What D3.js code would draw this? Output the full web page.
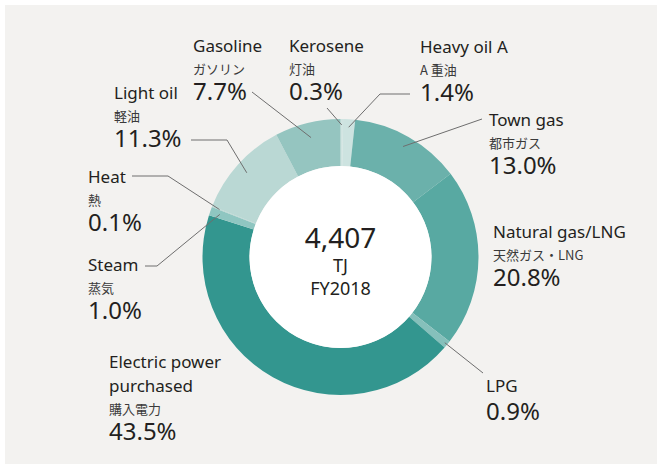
<!DOCTYPE html>
<html>
<head>
<meta charset="utf-8">
<script src="https://cdn.jsdelivr.net/npm/d3@7"></script>
<style>
	body { margin: 0; background: #ffffff; }
	text { font-family: "Noto Sans", "Noto Sans CJK JP", sans-serif; fill: #231f20; }
	.ja { font-family: "Noto Sans CJK JP", "Noto Sans", sans-serif; fill: #3a3a3a; }
</style>
</head>
<body>
<div id="chart"></div>
<script>
// energy sources, clockwise from 12 o'clock
var categories = ["Kerosene", "Heavy oil A", "Town gas", "Natural gas/LNG", "LPG",
	"Electric power\npurchased", "Steam", "Heat", "Light oil", "Gasoline"];
var categoriesJa = ["灯油", "A 重油", "都市ガス", "天然ガス・LNG", "", "購入電力", "蒸気", "熱", "軽油", "ガソリン"];
var shares = [0.3, 1.4, 13.0, 20.8, 0.9, 43.5, 1.0, 0.1, 11.3, 7.7];
var total = "4,407";
var unit = "TJ";
var fiscalYear = "FY2018";

var palette = ["#d0e4e1", "#cde3e0", "#6bb1ab", "#58a9a2", "#85c0bb",
	"#33968f", "#8fc6c1", "#b3d4d0", "#bad8d4", "#95c5c0"];

// label placement: x, name baseline, leader line points (start, elbow), radius where leader meets ring
var labelLayout = [
	{x: 289, y: 52, line: [[327, 108]], r: 132},
	{x: 420, y: 53, line: [[410, 94], [380, 94]], r: 130},
	{x: 489, y: 126, line: [[482, 119]], r: 127},
	{x: 493, y: 238, line: null},
	{x: 486, y: 392, line: [[483, 373]], r: 135},
	{x: 109, y: 368, line: null},
	{x: 88, y: 271, line: [[145, 266], [157, 266]], r: 128},
	{x: 88, y: 183, line: [[132, 176], [168, 176]], r: 130},
	{x: 114, y: 99, line: [[191, 140], [227, 140]], r: 126},
	{x: 193, y: 52, line: [[252, 92]], r: 123}
];

var width = 657, height = 466;
var cx = 340.5, cy = 257;
var outerR = 138, innerR = 91;

var svg = d3.select("#chart")
	.append("svg")
	.attr("width", width)
	.attr("height", height);

// panel background
svg.append("rect")
	.attr("x", 5)
	.attr("y", 5)
	.attr("width", width - 5)
	.attr("height", height - 7)
	.style("fill", "#f3f2f0");

var pie = d3.pie()
	.sort(null)
	.value(function(d){ return d; })
	.startAngle(0)
	.endAngle(2 * Math.PI);

var arc = d3.arc()
	.innerRadius(innerR)
	.outerRadius(outerR);

var arcs = pie(shares);

var g = svg.append("g")
	.attr("transform", "translate(" + cx + "," + cy + ")");

g.selectAll()
	.data(arcs)
	.enter()
	.append("path")
	.attr("d", arc)
	.style("fill", function(d, i){ return palette[i]; });

g.append("circle")
	.attr("r", innerR)
	.style("fill", "#ffffff");

// centre totals
g.append("text")
	.attr("y", -9)
	.attr("text-anchor", "middle")
	.style("font-size", "28px")
	.text(total);
g.append("text")
	.attr("y", 15)
	.attr("text-anchor", "middle")
	.style("font-size", "18px")
	.text(unit);
g.append("text")
	.attr("y", 38)
	.attr("text-anchor", "middle")
	.style("font-size", "18px")
	.text(fiscalYear);

// leader lines - end point sits on the slice's mid angle
function ringPoint(d, r) {
	var a = (d.startAngle + d.endAngle) / 2;
	return [cx + r * Math.sin(a), cy - r * Math.cos(a)];
}

arcs.forEach(function(d, i) {
	var lay = labelLayout[i];
	if (lay.line) {
		var pts = lay.line.concat([ringPoint(d, lay.r)]);
		svg.append("path")
			.attr("d", d3.line()(pts))
			.style("fill", "none")
			.style("stroke", "#6e6e6e")
			.style("stroke-width", 1);
	}

	var lbl = svg.append("g");
	var y = lay.y;
	var nameLines = categories[i].split("\n");
	nameLines.forEach(function(s, k) {
		lbl.append("text")
			.attr("x", lay.x)
			.attr("y", y + k * 24)
			.style("font-size", "17px")
			.text(s);
	});
	y += (nameLines.length - 1) * 24;
	if (categoriesJa[i]) {
		y += 22;
		lbl.append("text")
			.attr("class", "ja")
			.attr("x", lay.x)
			.attr("y", y)
			.style("font-size", "13px")
			.text(categoriesJa[i]);
		y += 26;
	} else {
		y += 28;
	}
	lbl.append("text")
		.attr("x", lay.x)
		.attr("y", y)
		.style("font-size", "24px")
		.text(shares[i].toFixed(1) + "%");
});
</script>
</body>
</html>
